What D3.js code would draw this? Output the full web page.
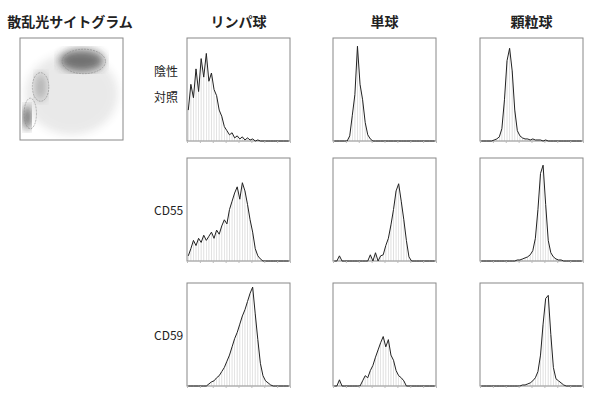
<!DOCTYPE html>
<html>
<head>
<meta charset="utf-8">
<script src="https://cdn.jsdelivr.net/npm/d3@7"></script>
<style>
  body { margin: 0; background: #fff; }
  text { font-family: "Noto Sans CJK JP", sans-serif; fill: #222; }
</style>
</head>
<body>
<svg id="chart" width="600" height="404"></svg>
<script>
var columns = ['リンパ球', '単球', '顆粒球'];
var rowLabels = [['陰性', '対照'], ['CD55'], ['CD59']];

// 40 bins per histogram, relative counts
var lymphNeg = [0.30,0.55,0.42,0.70,0.48,0.80,0.62,0.85,0.58,0.66,0.50,0.44,0.30,0.24,0.14,0.10,0.06,0.08,0.03,0.05,0.02,0.04,0.01,0.03,0.01,0.02,0,0.01,0,0,0,0,0,0,0,0,0,0,0,0];
var monoNeg = [0,0,0,0,0,0,0.05,0.25,0.45,0.92,0.55,0.40,0.18,0.06,0.02,0,0,0,0,0,0,0,0,0,0,0,0,0,0,0,0,0,0,0,0,0,0,0,0,0];
var granNeg = [0,0,0,0,0,0.01,0.02,0.04,0.12,0.40,0.78,0.90,0.68,0.30,0.10,0.05,0.03,0.02,0.02,0.01,0.02,0.01,0.01,0.01,0,0.01,0,0,0,0,0,0,0,0,0,0,0,0,0,0];
var lymphCD55 = [0.05,0.12,0.20,0.15,0.22,0.18,0.25,0.20,0.24,0.28,0.22,0.30,0.26,0.34,0.40,0.36,0.50,0.58,0.66,0.72,0.60,0.76,0.68,0.55,0.40,0.28,0.12,0.05,0.02,0,0,0,0,0,0,0,0,0,0,0];
var monoCD55 = [0,0,0.05,0,0,0,0,0,0,0,0,0,0,0,0.06,0,0.08,0,0.05,0.06,0.15,0.22,0.35,0.50,0.68,0.75,0.58,0.40,0.20,0.04,0,0,0,0,0,0,0,0,0,0];
var granCD55 = [0,0,0,0,0,0,0,0,0,0,0,0,0,0,0.01,0.01,0.02,0.03,0.04,0.06,0.10,0.22,0.50,0.85,0.93,0.55,0.20,0.08,0.04,0.02,0.01,0.01,0,0,0,0,0,0,0,0];
var lymphCD59 = [0,0,0,0,0,0,0,0,0.02,0.04,0.05,0.08,0.10,0.14,0.18,0.24,0.30,0.38,0.46,0.52,0.60,0.68,0.74,0.82,0.90,0.96,0.70,0.45,0.22,0.10,0.05,0.03,0.01,0,0,0,0,0,0,0];
var monoCD59 = [0,0,0.06,0,0,0,0,0,0,0,0,0.05,0.10,0.08,0.15,0.20,0.28,0.35,0.42,0.48,0.38,0.45,0.30,0.25,0.15,0.10,0.08,0.05,0,0,0,0,0,0,0,0,0,0,0,0];
var granCD59 = [0,0,0,0,0,0,0,0,0,0,0,0,0,0,0,0,0.01,0.01,0.02,0.03,0.05,0.08,0.14,0.30,0.60,0.85,0.88,0.50,0.18,0.07,0.05,0.03,0.01,0,0,0,0,0,0,0];

var histData = [
  [lymphNeg, monoNeg, granNeg],
  [lymphCD55, monoCD55, granCD55],
  [lymphCD59, monoCD59, granCD59]
];

// scatter plot cell populations: centre x, centre y (0..1), spread, darkness
var clusterX = [0.50, 0.60, 0.20, 0.07];
var clusterY = [0.45, 0.78, 0.52, 0.22];
var clusterRX = [0.45, 0.22, 0.06, 0.035];
var clusterRY = [0.40, 0.11, 0.14, 0.12];
var clusterDark = [0.10, 0.65, 0.30, 0.95];
var gateX = [0.62, 0.20, 0.10];
var gateY = [0.77, 0.52, 0.26];
var gateRX = [0.21, 0.08, 0.06];
var gateRY = [0.12, 0.14, 0.15];

var svg = d3.select('#chart');
var colX = [187, 333, 480];
var rowY = [38, 158, 283];
var size = 103;

// titles
svg.append('text').attr('x', 70).attr('y', 27).attr('text-anchor', 'middle')
  .attr('font-size', 14).attr('font-weight', 'bold').text('散乱光サイトグラム');
columns.forEach(function(c, i) {
  svg.append('text').attr('x', colX[i] + size / 2).attr('y', 27).attr('text-anchor', 'middle')
    .attr('font-size', 14).attr('font-weight', 'bold').text(c);
});
rowLabels.forEach(function(lines, r) {
  var mid = r === 0 ? 76 : rowY[r] + 57;
  lines.forEach(function(t, k) {
    svg.append('text').attr('x', 154).attr('y', mid + k * 26)
      .attr('font-size', 12).attr('fill', '#333').text(t);
  });
});

// scatter panel
var sx = d3.scaleLinear().domain([0, 1]).range([20, 123]);
var sy = d3.scaleLinear().domain([0, 1]).range([140, 38]);
var defs = svg.append('defs');
defs.append('filter').attr('id', 'blur').append('feGaussianBlur').attr('stdDeviation', 4);
defs.append('clipPath').attr('id', 'sclip').append('rect')
  .attr('x', 20).attr('y', 38).attr('width', size).attr('height', 102);
var scatter = svg.append('g').attr('clip-path', 'url(#sclip)');
scatter.selectAll('ellipse.pop').data(clusterX).join('ellipse')
  .attr('cx', function(d) { return sx(d); })
  .attr('cy', function(d, i) { return sy(clusterY[i]); })
  .attr('rx', function(d, i) { return sx(clusterRX[i]) - sx(0); })
  .attr('ry', function(d, i) { return sy(0) - sy(clusterRY[i]); })
  .attr('fill', '#333')
  .attr('opacity', function(d, i) { return clusterDark[i]; })
  .attr('filter', 'url(#blur)');
scatter.selectAll('ellipse.gate').data(gateX).join('ellipse')
  .attr('cx', function(d) { return sx(d); })
  .attr('cy', function(d, i) { return sy(gateY[i]); })
  .attr('rx', function(d, i) { return sx(gateRX[i]) - sx(0); })
  .attr('ry', function(d, i) { return sy(0) - sy(gateRY[i]); })
  .attr('fill', 'none').attr('stroke', '#888').attr('stroke-width', 0.6)
  .attr('stroke-dasharray', '2,1');
svg.append('rect').attr('x', 20).attr('y', 38).attr('width', size).attr('height', 102)
  .attr('fill', 'none').attr('stroke', '#888');

// histograms
histData.forEach(function(row, r) {
  row.forEach(function(vals, c) {
    var x = d3.scaleLinear().domain([0, vals.length]).range([colX[c], colX[c] + size]);
    var y = d3.scaleLinear().domain([0, 1]).range([rowY[r] + size, rowY[r]]);
    var g = svg.append('g');
    g.append('rect').attr('x', colX[c]).attr('y', rowY[r]).attr('width', size).attr('height', size)
      .attr('fill', 'none').attr('stroke', '#888');
    g.selectAll('line.spike').data(vals).join('line')
      .attr('x1', function(d, i) { return x(i + 0.5); })
      .attr('x2', function(d, i) { return x(i + 0.5); })
      .attr('y1', y(0)).attr('y2', function(d) { return y(d); })
      .attr('stroke', '#aaa').attr('stroke-width', 0.6).attr('opacity', 0.6);
    var line = d3.line()
      .x(function(d, i) { return x(i + 0.5); })
      .y(function(d) { return y(d); });
    g.append('path').datum(vals).attr('d', line)
      .attr('fill', 'none').attr('stroke', '#222').attr('stroke-width', 1);
    g.append('g').attr('transform', 'translate(0,' + y(0) + ')')
      .call(d3.axisBottom(x).ticks(10).tickSize(2).tickFormat(''))
      .call(function(a) { a.select('.domain').remove(); a.selectAll('line').attr('stroke', '#bbb'); });
  });
});
</script>
</body>
</html>
